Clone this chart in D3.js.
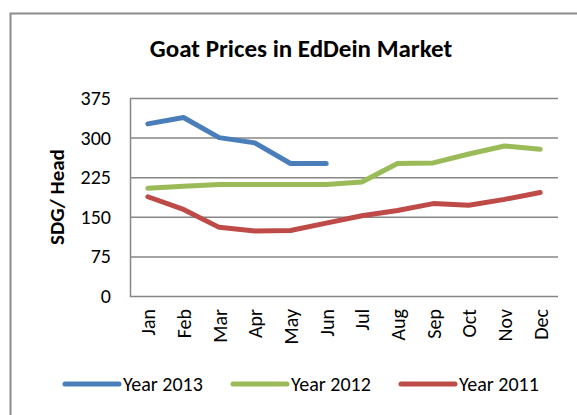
<!DOCTYPE html>
<html><head><meta charset="utf-8">
<script src="https://cdn.jsdelivr.net/npm/d3@7"></script>
<style>
html,body{margin:0;padding:0;background:#fff;}
svg{display:block;}
text{font-family:Carlito,Calibri,Lato,"Open Sans",sans-serif;fill:#000;}
</style></head>
<body>
<script>
const months = ["Jan","Feb","Mar","Apr","May","Jun","Jul","Aug","Sep","Oct","Nov","Dec"];
const seriesNames = ["Year 2013","Year 2012","Year 2011"];
const year2013 = [326, 338, 300, 290, 251, 251, null, null, null, null, null, null];
const year2012 = [204, 208, 211, 211, 211, 211, 216, 251, 252, 269, 284, 278];
const year2011 = [188, 164, 130, 123, 124, 138, 152, 162, 175, 172, 183, 196];
const yTicks = [0, 75, 150, 225, 300, 375];
const colors = ["#4a7ebb", "#9bbb59", "#be4b48"];

const W = 577, H = 415;
const svg = d3.select("body").append("svg").attr("width", W).attr("height", H);

// outer frame
svg.append("rect").attr("x", 10.5).attr("y", 13.5).attr("width", W + 20).attr("height", H + 20)
  .attr("fill", "none").attr("stroke", "#8c8c8c").attr("stroke-width", 2);

const plot = {left: 130, right: 558, top: 98, bottom: 296};

const x = d3.scalePoint().domain(months).range([plot.left, plot.right]).padding(0.5);
const y = d3.scaleLinear().domain([0, 375]).range([plot.bottom, plot.top]);

// gridlines
svg.append("g").selectAll("line").data(yTicks).join("line")
  .attr("x1", plot.left).attr("x2", plot.right)
  .attr("y1", d => y(d) + 0.5).attr("y2", d => y(d) + 0.5)
  .attr("stroke", "#868686").attr("stroke-width", 1.5);

// y axis line
svg.append("line").attr("x1", plot.left + 0.5).attr("x2", plot.left + 0.5)
  .attr("y1", plot.top).attr("y2", plot.bottom + 1)
  .attr("stroke", "#868686").attr("stroke-width", 1.5);

// y axis labels
const yAxis = d3.axisLeft(y).tickValues(yTicks).tickSize(0).tickPadding(19);
const gy = svg.append("g").attr("transform", `translate(${plot.left},0)`).call(yAxis);
gy.select(".domain").remove();
gy.selectAll("text").style("font-size", "20px").style("font-family", null).attr("fill", "#000");

// x axis labels
const xAxis = d3.axisBottom(x).tickSize(0).tickPadding(0);
const gx = svg.append("g").attr("transform", `translate(0,${plot.bottom})`).call(xAxis);
gx.select(".domain").remove();
gx.selectAll("text")
  .style("font-size", "20px")
  .attr("text-anchor", "end")
  .attr("transform", "rotate(-90)")
  .attr("x", -13).attr("y", 0).attr("dy", "0.35em");
svg.selectAll("g").attr("font-family", null);

// y axis title
svg.append("text").attr("transform", `translate(57,${(plot.top + plot.bottom) / 2}) rotate(-90)`)
  .attr("text-anchor", "middle").attr("dy", "0.35em")
  .style("font-size", "21px").style("font-weight", "bold").text("SDG/ Head");

// title
svg.append("text").attr("x", 301).attr("y", 57).attr("text-anchor", "middle")
  .style("font-size", "25px").style("font-weight", "bold").text("Goat Prices in EdDein Market");

// lines
const line = d3.line().defined(d => d.v != null).x(d => x(d.m)).y(d => y(d.v));
const allSeries = [year2013, year2012, year2011];
allSeries.forEach((vals, i) => {
  svg.append("path").datum(vals.map((v, j) => ({m: months[j], v})))
    .attr("d", line).attr("fill", "none").attr("stroke", colors[i])
    .attr("stroke-width", 5).attr("stroke-linecap", "round").attr("stroke-linejoin", "round");
});

// legend
const legendX = [63, 231, 399];
seriesNames.forEach((name, i) => {
  const g = svg.append("g").attr("transform", `translate(${legendX[i]},384)`);
  g.append("line").attr("x1", 2).attr("x2", 56).attr("y1", 0).attr("y2", 0)
    .attr("stroke", colors[i]).attr("stroke-width", 5).attr("stroke-linecap", "round");
  g.append("text").attr("x", 60).attr("y", 7)
    .style("font-size", "20px").text(name);
});
</script>
</body></html>
